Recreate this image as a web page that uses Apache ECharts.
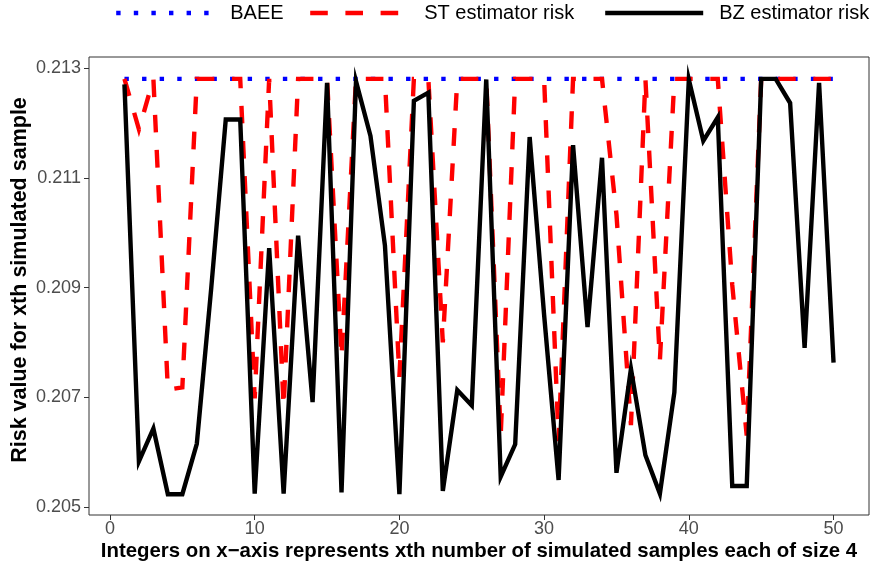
<!DOCTYPE html>
<html>
<head>
<meta charset="utf-8">
<script src="https://cdn.jsdelivr.net/npm/echarts@6/dist/echarts.min.js"></script>
<style>
html,body{margin:0;padding:0;background:#fff;}
#chart{width:875px;height:570px;}
</style>
</head>
<body>
<div id="chart"></div>
<script>
const samples = [1,2,3,4,5,6,7,8,9,10,11,12,13,14,15,16,17,18,19,20,21,22,23,24,25,26,27,28,29,30,31,32,33,34,35,36,37,38,39,40,41,42,43,44,45,46,47,48,49,50];

const baeeRisk = [0.21281,0.21281,0.21281,0.21281,0.21281,0.21281,0.21281,0.21281,0.21281,0.21281,
                  0.21281,0.21281,0.21281,0.21281,0.21281,0.21281,0.21281,0.21281,0.21281,0.21281,
                  0.21281,0.21281,0.21281,0.21281,0.21281,0.21281,0.21281,0.21281,0.21281,0.21281,
                  0.21281,0.21281,0.21281,0.21281,0.21281,0.21281,0.21281,0.21281,0.21281,0.21281,
                  0.21281,0.21281,0.21281,0.21281,0.21281,0.21281,0.21281,0.21281,0.21281,0.21281];

const stRisk = [0.21281,0.21189,0.21281,0.20714,0.20718,0.21281,0.21281,0.21281,0.21281,0.20698,
                0.21281,0.20682,0.21281,0.21281,0.21281,0.20773,0.21281,0.21281,0.21281,0.20737,
                0.21281,0.21281,0.20800,0.21281,0.21281,0.21281,0.20630,0.21281,0.21281,0.21281,
                0.20620,0.21281,0.21281,0.21281,0.21033,0.20649,0.21281,0.20767,0.21281,0.21281,
                0.21281,0.21281,0.20905,0.20630,0.21281,0.21281,0.21281,0.21281,0.21281,0.21281];

const bzRisk = [0.21271,0.20583,0.20643,0.20523,0.20523,0.20615,0.20900,0.21207,0.21207,0.20524,
                0.20972,0.20524,0.20995,0.20691,0.21274,0.20526,0.21277,0.21177,0.20977,0.20523,
                0.21241,0.21256,0.20529,0.20713,0.20685,0.21280,0.20555,0.20614,0.21175,0.20850,
                0.20549,0.21160,0.20828,0.21137,0.20562,0.20752,0.20594,0.20524,0.20709,0.21280,
                0.21168,0.21211,0.20538,0.20538,0.21281,0.21281,0.21237,0.20790,0.21274,0.20763];

const xTicks = [0,10,20,30,40,50];
const yTicks = [0.205,0.207,0.209,0.211,0.213];

const FONT = 'Liberation Sans, Arial, sans-serif';
const pairs = arr => samples.map((x, i) => [x, arr[i]]);

const chart = echarts.init(document.getElementById('chart'), null, {renderer: 'canvas'});

function legendFor(name, left, lineStyle) {
  return {
    show: true,
    data: [name],
    left: left,
    top: 3,
    padding: 0,
    orient: 'horizontal',
    itemWidth: 98,
    itemHeight: 14,
    lineStyle: lineStyle,
    itemStyle: {opacity: 0},
    textStyle: {fontFamily: FONT, fontSize: 20, color: '#000', padding: [0, 0, 0, 11]},
    selectedMode: false
  };
}

const option = {
  backgroundColor: '#fff',
  animation: false,
  legend: [
    legendFor('BAEE', 114, {color: '#0000ff', width: 4.4, type: [4.4, 13.2], cap: 'butt'}),
    legendFor('ST estimator risk', 308, {color: '#ff0000', width: 4.4, type: [17.6, 17.6], cap: 'butt'}),
    legendFor('BZ estimator risk', 603, {color: '#000000', width: 4.4, type: 'solid', cap: 'butt'})
  ],
  grid: {
    left: 89, right: 6, top: 57, bottom: 55,
    containLabel: false,
    outerBoundsMode: 'none',
    show: true, borderColor: '#333', borderWidth: 1, backgroundColor: '#fff'
  },
  xAxis: {
    type: 'value',
    min: -1.45, max: 52.45,
    name: 'Integers on x\u2212axis represents xth number of simulated samples each of size 4',
    nameLocation: 'middle',
    nameGap: 26,
    nameMoveOverlap: false,
    nameTextStyle: {fontFamily: FONT, fontSize: 20.4, fontWeight: 'bold', color: '#000'},
    axisLine: {show: false, onZero: false},
    axisTick: {show: true, length: 5, lineStyle: {color: '#333', width: 1}, customValues: xTicks},
    axisLabel: {fontFamily: FONT, fontSize: 18, color: '#4d4d4d', margin: 5, customValues: xTicks},
    splitLine: {show: false}
  },
  yAxis: {
    type: 'value',
    min: 0.20485, max: 0.21321,
    name: 'Risk value for xth simulated sample',
    nameLocation: 'middle',
    nameGap: 58,
    nameRotate: 90,
    nameMoveOverlap: false,
    nameTextStyle: {fontFamily: FONT, fontSize: 21.5, fontWeight: 'bold', color: '#000', padding: [0, 0, 0, 12]},
    axisLine: {show: false, onZero: false},
    axisTick: {show: true, length: 5, lineStyle: {color: '#333', width: 1}, customValues: yTicks},
    axisLabel: {fontFamily: FONT, fontSize: 18, color: '#4d4d4d', margin: 8, customValues: yTicks,
      formatter: v => v.toFixed(3)},
    splitLine: {show: false}
  },
  series: [
    {
      name: 'BAEE', type: 'line', data: pairs(baeeRisk), showSymbol: false, symbol: 'none',
      lineStyle: {color: '#0000ff', width: 4.4, type: [4.4, 13.2], cap: 'butt'},
      itemStyle: {color: '#0000ff'}, z: 2
    },
    {
      name: 'ST estimator risk', type: 'line', data: pairs(stRisk), showSymbol: false, symbol: 'none',
      lineStyle: {color: '#ff0000', width: 4.4, type: [17.6, 17.6], cap: 'butt', join: 'miter'},
      itemStyle: {color: '#ff0000'}, z: 3
    },
    {
      name: 'BZ estimator risk', type: 'line', data: pairs(bzRisk), showSymbol: false, symbol: 'none',
      lineStyle: {color: '#000000', width: 4.4, type: 'solid', cap: 'butt', join: 'miter'},
      itemStyle: {color: '#000000'}, z: 4
    }
  ]
};
chart.setOption(option);
</script>
</body>
</html>
